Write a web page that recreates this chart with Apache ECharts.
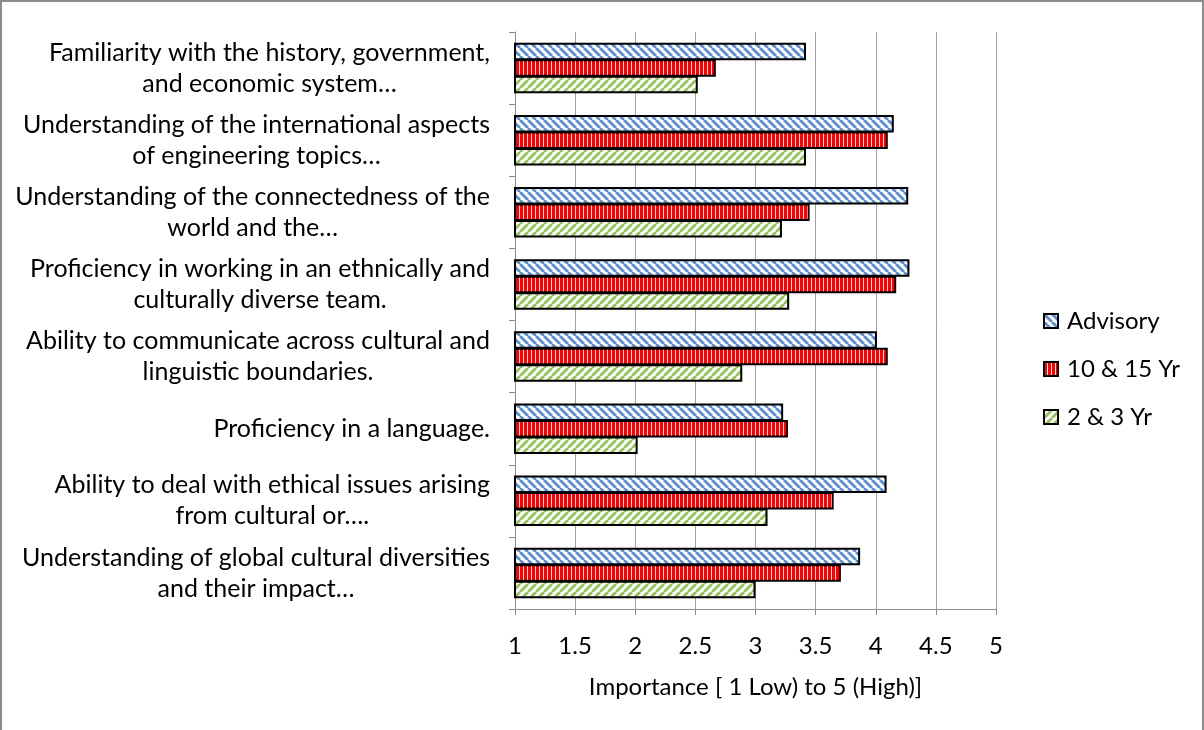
<!DOCTYPE html>
<html>
<head>
<meta charset="utf-8">
<script src="https://cdn.jsdelivr.net/npm/echarts@6/dist/echarts.min.js"></script>
<style>
html,body{margin:0;padding:0;background:#fff;}
#frame{position:absolute;left:0;top:0;width:1204px;height:740px;border-left:2px solid #8c8c8c;border-top:2px solid #8c8c8c;border-right:2px solid #8c8c8c;box-sizing:border-box;}
#chart{position:absolute;left:0;top:0;width:1204px;height:730px;}
</style>
</head>
<body>
<div id="frame"></div>
<div id="chart"></div>
<script>
const categories = [
  "Familiarity with the history, government,\nand economic system…",
  "Understanding of the international aspects\nof engineering topics…",
  "Understanding of the connectedness of the\nworld and the…",
  "Proficiency in working in an ethnically and\nculturally diverse team.",
  "Ability to communicate across cultural and\nlinguistic boundaries.",
  "Proficiency in a language.",
  "Ability to deal with ethical issues arising\nfrom cultural or….",
  "Understanding of global cultural diversities\nand their impact…"
];
const seriesNames = ["Advisory", "10 & 15 Yr", "2 & 3 Yr"];
const advisory = [3.42, 4.15, 4.27, 4.28, 4.01, 3.23, 4.09, 3.87];
const yr10_15 = [2.67, 4.10, 3.45, 4.17, 4.10, 3.27, 3.65, 3.71];
const yr2_3 = [2.52, 3.42, 3.22, 3.28, 2.89, 2.02, 3.10, 3.00];
const xTicks = [1, 1.5, 2, 2.5, 3, 3.5, 4, 4.5, 5];

function diagPattern(color, dir) {
  const s = 8;
  const c = document.createElement('canvas');
  c.width = s; c.height = s;
  const g = c.getContext('2d');
  g.fillStyle = '#fff'; g.fillRect(0, 0, s, s);
  g.strokeStyle = color; g.lineWidth = 2.8;
  for (let k = -1; k <= 1; k++) {
    g.beginPath();
    if (dir === 'back') { g.moveTo(k * s, 0); g.lineTo(k * s + s, s); }
    else { g.moveTo(k * s, s); g.lineTo(k * s + s, 0); }
    g.stroke();
  }
  return { image: c, repeat: 'repeat' };
}
function vertPattern(color) {
  const c = document.createElement('canvas');
  c.width = 4; c.height = 4;
  const g = c.getContext('2d');
  g.fillStyle = '#fff'; g.fillRect(0, 0, 4, 4);
  g.fillStyle = color; g.fillRect(0, 0, 3, 4);
  return { image: c, repeat: 'repeat' };
}
const fills = [diagPattern('#5b8ed6', 'back'), vertPattern('#ff0000'), diagPattern('#92c45a', 'fwd')];
const dataSets = [advisory, yr10_15, yr2_3];

const FONT = 'Lato';
const chart = echarts.init(document.getElementById('chart'), null, { renderer: 'canvas' });
chart.setOption({
  animation: false,
  backgroundColor: 'transparent',
  grid: { left: 515, right: 208, top: 32, bottom: 121, containLabel: false },
  legend: {
    orient: 'vertical',
    left: 1038, top: 304,
    itemWidth: 14, itemHeight: 14, itemGap: 24,
    icon: 'rect',
    textStyle: { fontFamily: FONT, fontSize: 24, color: '#000', padding: [0, 0, 0, 4] },
    data: seriesNames
  },
  xAxis: {
    type: 'value', min: 1, max: 5, interval: 0.5,
    name: 'Importance [ 1 Low) to 5 (High)]',
    nameLocation: 'middle', nameGap: 66,
    nameTextStyle: { fontFamily: FONT, fontSize: 24, color: '#000' },
    axisLine: { show: true, lineStyle: { color: '#8c8c8c', width: 1 } },
    axisTick: { show: true, length: 6, lineStyle: { color: '#8c8c8c' } },
    axisLabel: { fontFamily: FONT, fontSize: 24, color: '#000', margin: 25,
      formatter: v => String(xTicks.find(t => Math.abs(t - v) < 1e-9) ?? v) },
    splitLine: { show: true, lineStyle: { color: '#a0a0a0', width: 1 } }
  },
  yAxis: {
    type: 'category', inverse: true, data: categories,
    axisLine: { show: true, lineStyle: { color: '#8c8c8c', width: 1 } },
    axisTick: { show: true, length: 6, lineStyle: { color: '#8c8c8c' } },
    axisLabel: {
      fontFamily: FONT, fontSize: 25, color: '#000', margin: 25, align: 'right',
      lineHeight: 31,
      formatter: v => v.split('\n').map(l => '{c|' + l + '}').join('\n'),
      rich: { c: { align: 'center', fontFamily: FONT, fontSize: 25, color: '#000', lineHeight: 31 } }
    }
  },
  series: seriesNames.map((n, i) => ({
    name: n, type: 'bar', data: dataSets[i],
    barGap: '-6%', barCategoryGap: '30%',
    itemStyle: { color: fills[i], borderColor: '#000', borderWidth: 2 }
  }))
});
</script>
</body>
</html>
